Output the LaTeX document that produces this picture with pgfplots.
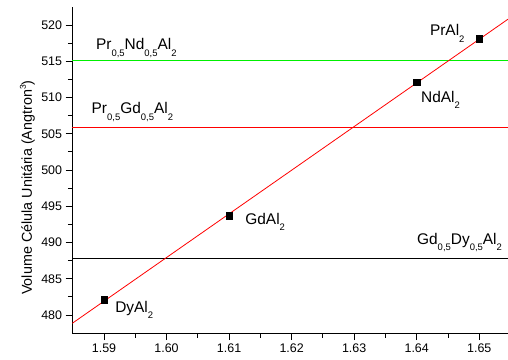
\documentclass[border=0pt]{standalone}
\usepackage{fontspec}
\setmainfont{Liberation Sans}
\usepackage{pgfplots}
\pgfplotsset{compat=1.18}
\newcommand\sub[1]{\raisebox{-6.5bp}{\fontsize{9.5}{10}\selectfont #1}}
\definecolor{lgreen}{RGB}{0,240,0}
\definecolor{lred}{RGB}{255,0,0}
\begin{document}
\begin{tikzpicture}
\begin{axis}[name=ax, scale only axis, width=435.7bp, height=326bp,
  xmin=1.58493, xmax=1.6546, ymin=477.48, ymax=522.44,
  axis x line=bottom, axis y line=left,
  axis line style={-, line width=0.8bp},
  tick align=outside,
  xtick={1.59,1.60,1.61,1.62,1.63,1.64,1.65},
  ytick={480,485,490,495,500,505,510,515,520},
  minor x tick num=1, minor y tick num=1,
  major tick length=6.7bp, minor tick length=4.3bp,
  every tick/.style={black, line width=0.8bp},
  /pgf/number format/assume math mode=true,
  x tick label style={/pgf/number format/fixed, /pgf/number format/precision=2, /pgf/number format/fixed zerofill},
  ticklabel style={font=\fontsize{12.5}{14}\selectfont},
  ylabel={Volume Célula Unitária (Angtron\raisebox{6bp}{\fontsize{8.5}{9}\selectfont 3})},
  ylabel style={font=\fontsize{14.4}{16}\selectfont, at={(axis description cs:0,0.447)}, anchor=base, yshift=40.3bp},
  clip=false,
]
\addplot[lgreen, line width=0.9bp] coordinates {(1.58493,515.1) (1.6546,515.1)};
\addplot[lred, line width=0.9bp] coordinates {(1.58493,505.87) (1.6546,505.87)};
\addplot[black, line width=0.9bp] coordinates {(1.58493,487.75) (1.6546,487.75)};
\addplot[lred, line width=0.8bp] coordinates {(1.58493,478.86) (1.6546,520.8)};
\addplot[only marks, mark=square*, mark size=3.2bp, black] coordinates {
  (1.59,482.1) (1.61,493.7) (1.64,512.1) (1.65,518.1)};
\node[anchor=base west, inner sep=0pt, font=\fontsize{15.5}{17}\selectfont] at (axis cs:1.5887,516.56) {Pr\sub{0,5}Nd\sub{0,5}Al\sub{2}};
\node[anchor=base west, inner sep=0pt, font=\fontsize{15.5}{17}\selectfont] at (axis cs:1.5880,507.76) {Pr\sub{0,5}Gd\sub{0,5}Al\sub{2}};
\node[anchor=base west, inner sep=0pt, font=\fontsize{15.5}{17}\selectfont] at (axis cs:1.6421,518.49) {PrAl\sub{2}};
\node[anchor=base west, inner sep=0pt, font=\fontsize{15.5}{17}\selectfont] at (axis cs:1.64068,509.31) {NdAl\sub{2}};
\node[anchor=base west, inner sep=0pt, font=\fontsize{15.5}{17}\selectfont] at (axis cs:1.61257,492.49) {GdAl\sub{2}};
\node[anchor=base west, inner sep=0pt, font=\fontsize{15.5}{17}\selectfont] at (axis cs:1.64004,489.74) {Gd\sub{0,5}Dy\sub{0,5}Al\sub{2}};
\node[anchor=base west, inner sep=0pt, font=\fontsize{15.5}{17}\selectfont] at (axis cs:1.59177,480.37) {DyAl\sub{2}};
\end{axis}
\pgfresetboundingbox
\path ([xshift=-72.3bp,yshift=-26.7bp]ax.south west) rectangle ([yshift=7.3bp]ax.north east);
\end{tikzpicture}
\end{document}
